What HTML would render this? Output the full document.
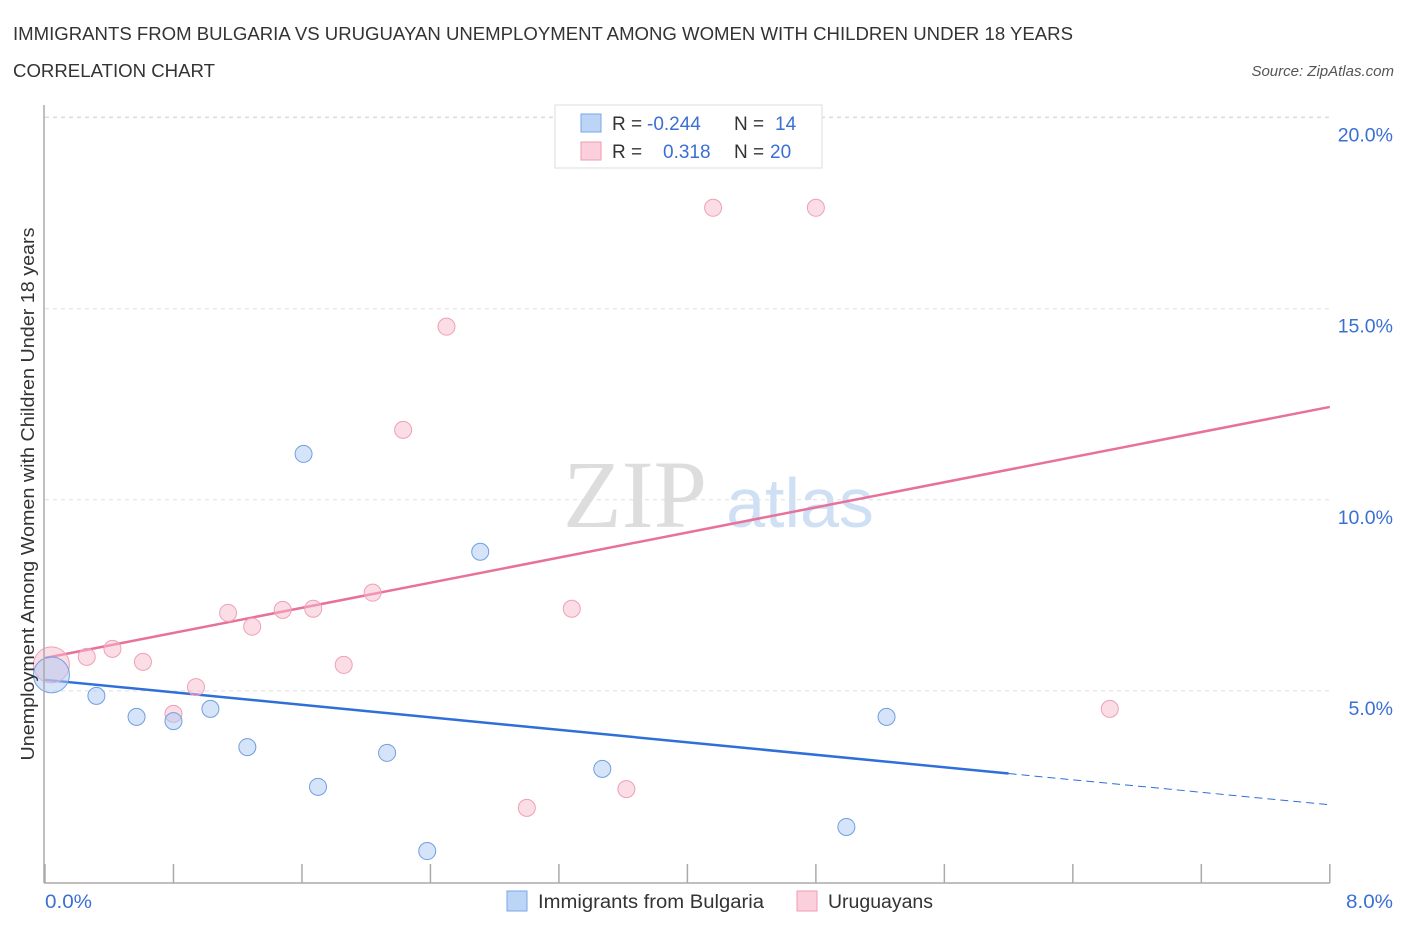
<!DOCTYPE html>
<html><head><meta charset="utf-8"><style>
body{margin:0;background:#fff;font-family:"Liberation Sans",sans-serif;}
</style></head><body>
<svg width="1406" height="930" xmlns="http://www.w3.org/2000/svg" id="chart">
<text x="13" y="40" font-size="18" fill="#333" textLength="1060" lengthAdjust="spacingAndGlyphs">IMMIGRANTS FROM BULGARIA VS URUGUAYAN UNEMPLOYMENT AMONG WOMEN WITH CHILDREN UNDER 18 YEARS</text>
<text x="13" y="77" font-size="18" fill="#333" textLength="202" lengthAdjust="spacingAndGlyphs">CORRELATION CHART</text>
<text x="1394" y="76" font-size="15" fill="#555" font-style="italic" text-anchor="end">Source: ZipAtlas.com</text>
<text x="635" y="527" font-size="96" fill="#ddd" font-family="Liberation Serif,serif" text-anchor="middle">ZIP</text>
<text x="800" y="527" font-size="70" fill="#cfe0f5" text-anchor="middle">atlas</text>
<g id="grid"></g><g id="ticks"></g><g id="lines"></g><g id="pts"></g>
<line x1="44" y1="105" x2="44" y2="883" stroke="#aaa" stroke-width="1.5"/>
<line x1="44" y1="883" x2="1330" y2="883" stroke="#aaa" stroke-width="1.5"/>
<text x="34" y="494" font-size="18" fill="#333" text-anchor="middle" textLength="533" lengthAdjust="spacingAndGlyphs" transform="rotate(-90 34 494)">Unemployment Among Women with Children Under 18 years</text>
<text x="45" y="908" font-size="19" fill="#3b6fd4" textLength="47" lengthAdjust="spacingAndGlyphs">0.0%</text>
<text x="1393" y="908" font-size="19" fill="#3b6fd4" text-anchor="end" textLength="47" lengthAdjust="spacingAndGlyphs">8.0%</text>
<g>
<rect x="555" y="105" width="267" height="63" fill="#fff" stroke="#ddd"/>
<rect x="581" y="114" width="20" height="18" fill="#bcd5f7" stroke="#7aa6e6"/>
<rect x="581" y="142" width="20" height="18" fill="#fbd0dc" stroke="#ef9bb4"/>
<text y="130" font-size="19" fill="#333"><tspan x="612">R =</tspan><tspan x="647" fill="#3b6fd4">-0.244</tspan><tspan x="734">N =</tspan><tspan x="775" fill="#3b6fd4">14</tspan></text>
<text y="158" font-size="19" fill="#333"><tspan x="612">R =</tspan><tspan x="663" fill="#3b6fd4">0.318</tspan><tspan x="734">N =</tspan><tspan x="770" fill="#3b6fd4">20</tspan></text>
</g>
<g>
<rect x="507" y="891" width="20" height="20" fill="#bcd5f7" stroke="#7aa6e6"/>
<text x="538" y="908" font-size="19" fill="#333" textLength="226" lengthAdjust="spacingAndGlyphs">Immigrants from Bulgaria</text>
<rect x="797" y="891" width="20" height="20" fill="#fbd0dc" stroke="#ef9bb4"/>
<text x="828" y="908" font-size="19" fill="#333" textLength="105" lengthAdjust="spacingAndGlyphs">Uruguayans</text>
</g>
</svg>
<script>
const yTicks=[5,10,15,20];
const yTickLabels=["5.0%","10.0%","15.0%","20.0%"];
const xTicks=[0,0.8,1.6,2.4,3.2,4,4.8,5.6,6.4,7.2,8];
const blueX=[0.04,0.32,0.57,0.80,1.03,1.26,1.61,1.70,2.13,2.38,2.71,3.47,4.99,5.24];
const blueY=[5.42,4.87,4.32,4.21,4.53,3.53,11.2,2.49,3.38,0.81,8.64,2.96,1.44,4.32];
const pinkX=[0.04,0.26,0.42,0.61,0.80,0.94,1.14,1.29,1.48,1.67,1.86,2.04,2.23,2.50,3.00,3.28,3.62,4.16,4.80,6.63];
const pinkY=[5.68,5.89,6.10,5.76,4.40,5.10,7.04,6.68,7.12,7.15,5.68,7.57,11.83,14.53,1.94,7.15,2.43,17.64,17.64,4.53];
const blueTrend=[5.29,2.02];
const pinkTrend=[5.86,12.43];
const blueSolidEnd=6.0;
const NS="http://www.w3.org/2000/svg";
const X=v=>45+v*160.6, Y=v=>882-v*38.22;
function mk(p,t,a){const e=document.createElementNS(NS,t);for(const k in a)e.setAttribute(k,a[k]);document.getElementById(p).appendChild(e);return e;}
yTicks.forEach((t,i)=>{
 const g=mk('grid','line',{x1:45,x2:1330,y1:Y(t),y2:Y(t),stroke:'#ddd','stroke-dasharray':'4,4'});
 
 
 const l=mk('grid','text',{x:1393,y:Y(t)+24,'font-size':19.5,fill:'#3b6fd4','text-anchor':'end'});
 l.textContent=yTickLabels[i];
 
 
});
mk('grid','line',{x1:45,x2:1330,y1:117,y2:117,stroke:'#ddd','stroke-dasharray':'4,4'});
xTicks.forEach(t=>{
 const e=mk('ticks','line',{x1:X(t),x2:X(t),y1:864,y2:883,stroke:'#aaa','stroke-width':1.5});
 
 
});
const yb=x=>blueTrend[0]+(blueTrend[1]-blueTrend[0])*x/8;
let e=mk('lines','line',{x1:X(0),y1:Y(yb(0)),x2:X(blueSolidEnd),y2:Y(yb(blueSolidEnd)),stroke:'#2f6fd8','stroke-width':2.5});


e=mk('lines','line',{x1:X(blueSolidEnd),y1:Y(yb(blueSolidEnd)),x2:X(8),y2:Y(yb(8)),stroke:'#2f6fd8','stroke-width':1,'stroke-dasharray':'8,5'});


e=mk('lines','line',{x1:X(0),y1:Y(pinkTrend[0]),x2:X(8),y2:Y(pinkTrend[1]),stroke:'#e8719a','stroke-width':2.5});


pinkX.forEach((x,i)=>{
 const c=mk('pts','circle',{cx:X(x),cy:Y(pinkY[i]),r:i==0?18:8.5,fill:'rgba(248,187,206,0.5)',stroke:'#eea0b8','stroke-width':1});
 
 
});
blueX.forEach((x,i)=>{
 const c=mk('pts','circle',{cx:X(x),cy:Y(blueY[i]),r:i==0?18:8.5,fill:'rgba(173,202,243,0.5)',stroke:'#6f9fe0','stroke-width':1});
 
 
});
</script>
</body></html>
